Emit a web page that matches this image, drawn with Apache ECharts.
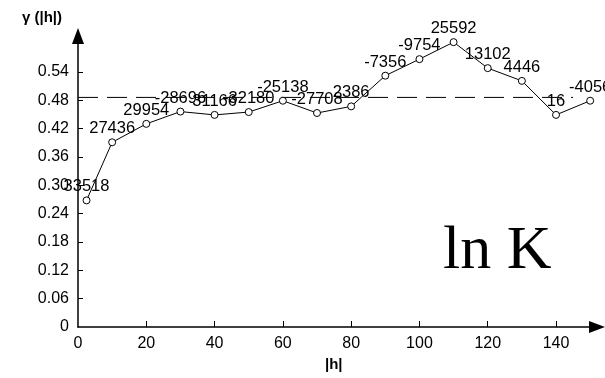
<!DOCTYPE html>
<html>
<head>
<meta charset="utf-8">
<script src="https://cdn.jsdelivr.net/npm/echarts@6/dist/echarts.min.js"></script>
<style>
html,body{margin:0;padding:0;background:#fff;}
#c{width:605px;height:378px;}
</style>
</head>
<body>
<div id="c"></div>
<script>
// Lag distances |h|
var lags = [2.5, 10, 20, 30, 40, 50, 60, 70, 80, 90, 100, 110, 120, 130, 140, 150];
// Semivariogram values gamma(|h|)
var gamma = [0.268, 0.391, 0.430, 0.456, 0.449, 0.455, 0.479, 0.453, 0.467, 0.532, 0.567, 0.603, 0.548, 0.521, 0.449, 0.479];
// Point labels (number of pairs)
var pointLabels = ["33518", "27436", "29954", "-28696", "31166", "-32180", "-25138", "-27708", "2386", "-7356", "-9754", "25592", "13102", "4446", "16", "-4056"];
// Sill (dashed reference line)
var sillValue = 0.486;
var sillRange = [0, 145];
// Tick labels
var xTicks = [0, 20, 40, 60, 80, 100, 120, 140];
var yTicks = [0, 0.06, 0.12, 0.18, 0.24, 0.30, 0.36, 0.42, 0.48, 0.54];

var chart = echarts.init(document.getElementById('c'), null, {renderer: 'canvas'});
var font = '"Liberation Sans", Arial, sans-serif';

var pts = lags.map(function (x, i) { return [x, gamma[i]]; });
var sill = sillRange.map(function (x) { return [x, sillValue]; });

chart.setOption({
  animation: false,
  backgroundColor: '#fff',
  grid: {left: 78, right: 8, top: 36, bottom: 51, containLabel: false},
  xAxis: {
    type: 'value', min: 0, max: 152,
    axisLine: {show: true, lineStyle: {color: '#000', width: 1.5}, symbol: ['none', 'triangle'], symbolSize: [12, 16]},
    axisTick: {show: true, inside: true, length: 6, lineStyle: {color: '#000'}, customValues: xTicks.slice(1)},
    axisLabel: {customValues: xTicks, color: '#000', fontSize: 16, fontFamily: font, margin: 9},
    splitLine: {show: false}
  },
  yAxis: {
    type: 'value', min: 0, max: 0.616,
    axisLine: {show: true, lineStyle: {color: '#000', width: 1.5}, symbol: ['none', 'triangle'], symbolSize: [12, 16]},
    axisTick: {show: true, inside: true, length: 5, lineStyle: {color: '#000'}, customValues: yTicks.slice(1)},
    axisLabel: {customValues: yTicks, color: '#000', fontSize: 16, fontFamily: font, margin: 9,
      formatter: function (v) { return v === 0 ? '0' : v.toFixed(2); }},
    splitLine: {show: false}
  },
  series: [
    {
      type: 'line', data: sill, symbol: 'none', silent: true,
      lineStyle: {color: '#000', width: 1, type: [20, 9]}
    },
    {
      type: 'line', data: pts, symbol: 'circle', symbolSize: 7, clip: false,
      itemStyle: {color: '#fff', borderColor: '#000', borderWidth: 1},
      lineStyle: {color: '#000', width: 1},
      label: {
        show: true, position: 'top', distance: 1, color: '#000', fontSize: 16.5, fontFamily: font,
        formatter: function (p) { return pointLabels[p.dataIndex]; }
      }
    }
  ],
  graphic: [
    {type: 'text', left: 22, top: 10, style: {text: 'γ (|h|)', font: 'bold 15px ' + font, fill: '#000'}},
    {type: 'text', left: 325, top: 357, style: {text: '|h|', font: 'bold 15px ' + font, fill: '#000'}},
    {type: 'text', x: 443, y: 252, style: {text: 'ln K', font: '62px "Liberation Serif", "Times New Roman", serif', fill: '#000', verticalAlign: 'middle', align: 'left'}}
  ]
});
</script>
</body>
</html>
